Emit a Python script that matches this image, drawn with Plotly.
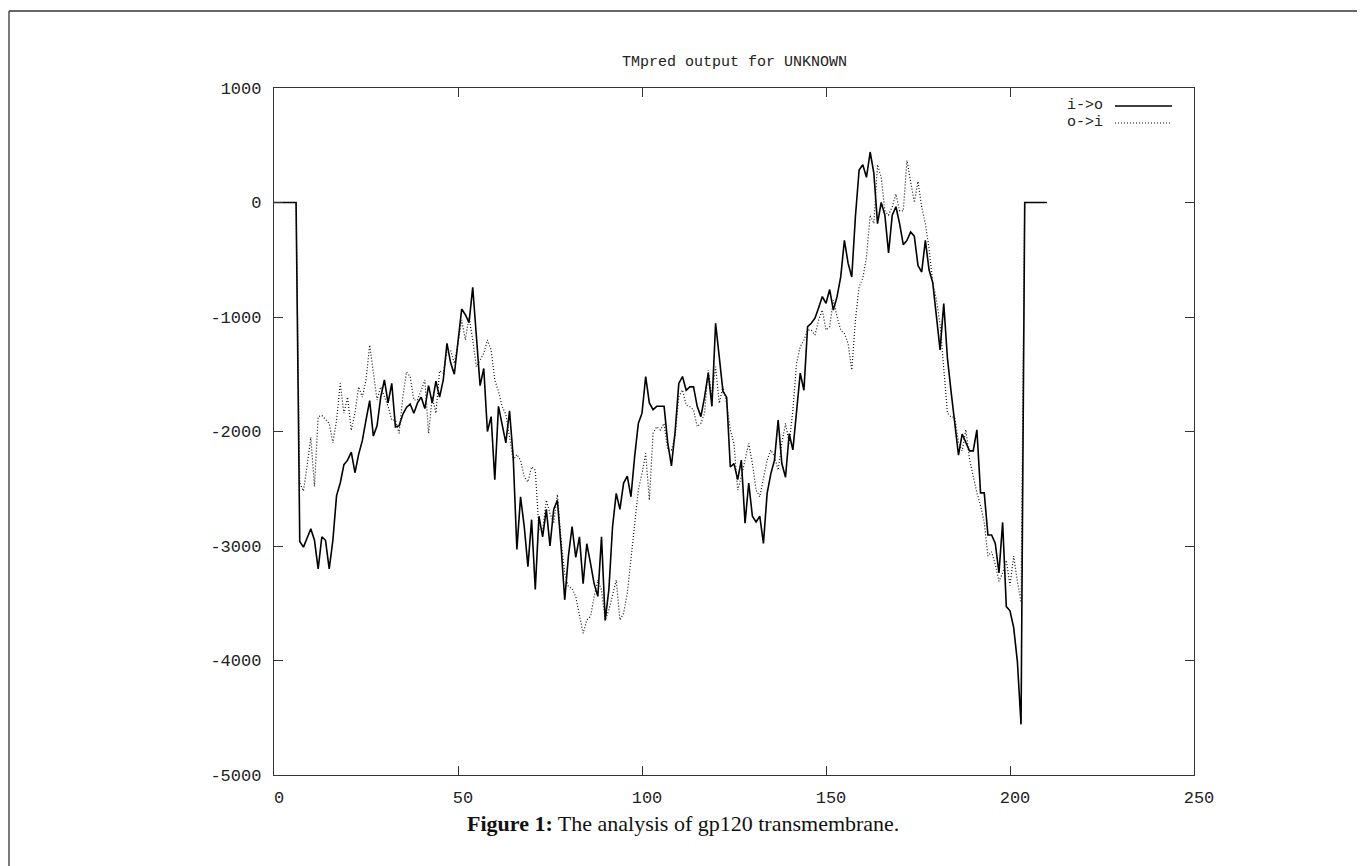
import plotly.graph_objects as go

# residue positions
positions = list(range(0, 211))

# TMpred scores, inside->outside (solid)
i_to_o = [
    0, 0, 0, 0, 0, 0, 0,
    -2960, -3010, -2930, -2850, -2950, -3200, -2920, -2950, -3200, -2950,
    -2560, -2450, -2290, -2250, -2180, -2360, -2200, -2080, -1900, -1730,
    -2040, -1950, -1700, -1550, -1750, -1580, -1960, -1950, -1850, -1790,
    -1760, -1840, -1750, -1700, -1800, -1600, -1750, -1560, -1700, -1550,
    -1230, -1400, -1500, -1200, -930, -980, -1050, -740, -1200, -1600,
    -1450, -2000, -1870, -2420, -1780, -1930, -2100, -1820, -2220, -3030,
    -2570, -2830, -3180, -2770, -3380, -2740, -2920, -2680, -3000, -2680,
    -2600, -3000, -3470, -3090, -2830, -3100, -2920, -3330, -2980, -3150,
    -3330, -3440, -2920, -3650, -3380, -2830, -2540, -2680, -2450, -2390,
    -2570, -2220, -1930, -1840, -1520, -1750, -1810, -1780, -1780, -1780,
    -2100, -2300, -2000, -1580, -1520, -1640, -1610, -1610, -1780, -1870,
    -1700, -1490, -1780, -1055, -1350, -1650, -1700, -2310, -2280, -2420,
    -2250, -2800, -2450, -2740, -2790, -2740, -2977, -2540, -2370, -2250,
    -1900, -2280, -2400, -2020, -2160, -1810, -1490, -1640, -1085, -1055,
    -1010, -920, -822, -880, -760, -940, -822, -650, -330, -530,
    -650, -120, 284, 330, 220, 441, 257, -184, 0, -110,
    -441, -110, -37, -184, -368, -331, -257, -294, -551, -607,
    -331, -588, -698, -993, -1287, -882, -1360, -1654, -1948, -2206,
    -2022, -2095, -2169, -2169, -1985, -2536, -2536, -2904, -2904, -2977,
    -3235, -2794, -3529, -3566, -3713, -4007, -4558,
    0, 0, 0, 0, 0, 0, 0,
]

# TMpred scores, outside->inside (dotted)
o_to_i = [
    0, 0, 0, 0, 0, 0, 0,
    -2450, -2520, -2300, -2050, -2480, -1870, -1860, -1900, -1930, -2100,
    -1900, -1580, -1840, -1700, -1990, -1840, -1610, -1700, -1550, -1245,
    -1490, -1725, -1610, -1700, -1780, -1900, -1900, -2016, -1700, -1480,
    -1520, -1725, -1725, -1640, -1550, -2016, -1700, -1840, -1470, -1492,
    -1300, -1290, -1405, -1230, -1026, -1200, -1000, -1200, -1434, -1376,
    -1317, -1201, -1288, -1550, -1650, -1783, -1850, -2046, -2250, -2200,
    -2250, -2395, -2440, -2308, -2337, -2860, -2860, -2599, -2715, -2802,
    -2550, -2948, -3239, -3355, -3370, -3443, -3617, -3762, -3646, -3617,
    -3443, -3297, -3384, -3646, -3560, -3414, -3297, -3646, -3588, -3414,
    -3123, -2773, -2511, -2366, -2191, -2599, -2016, -1958, -1987, -1929,
    -2162, -2162, -2045, -1696, -1637, -1769, -1783, -1812, -1958, -1929,
    -1841, -1463, -1696, -1434, -1754, -1608, -1754, -1987, -2104, -2511,
    -2395, -2250, -2104, -2279, -2511, -2570, -2424, -2250, -2162, -2220,
    -2337, -2104, -1929, -2104, -1812, -1405, -1259, -1201, -1114, -1114,
    -1158, -1026, -939, -1114, -1085, -852, -997, -1114, -1143, -1230,
    -1463, -1026, -735, -662, -478, -110, -184, 330, 220, -74,
    -110, -37, 74, -74, -74, 368, 184, 0, 184, -37,
    -184, -404, -698, -845, -1066, -1434, -1838, -1875, -1875, -2095,
    -2169, -1985, -2242, -2389, -2536, -2647, -2794, -3088, -3051, -3161,
    -3308, -3235, -3125, -3345, -3088, -3308, -3492,
    0, 0, 0, 0, 0, 0, 0,
]

series_names = ["i->o", "o->i"]
x_tick_vals = [0, 50, 100, 150, 200, 250]
x_tick_text = ["0", "50", "100", "150", "200", "250"]
y_tick_vals = [1000, 0, -1000, -2000, -3000, -4000, -5000]
y_tick_text = ["1000", "0", "-1000", "-2000", "-3000", "-4000", "-5000"]

# page has an 8px body margin; target plot box in page pixels: x 274..1194, y 88..775
OFF = 8
W, H = 1357, 858
L, T = 274 - OFF, 88 - OFF
R = OFF + W - 1194
B = OFF + H - 775
PW, PH = W - L - R, H - T - B


def px(xp):
    return (xp - OFF - L) / PW


def py(yp):
    return (OFF + H - B - yp) / PH


mono = "Liberation Mono"
ink = "#222222"
solid_line = dict(color="black", width=1.6)
dotted_line = dict(color="#111111", width=1.2, dash="1px,2px")

fig = go.Figure()
fig.add_trace(go.Scatter(x=positions, y=i_to_o, mode="lines", name=series_names[0],
                         line=solid_line, showlegend=False))
fig.add_trace(go.Scatter(x=positions, y=o_to_i, mode="lines", name=series_names[1],
                         line=dotted_line, showlegend=False))

axis_common = dict(showline=True, linecolor="#333333", linewidth=1.3, mirror="ticks",
                   ticks="inside", ticklen=9, tickwidth=1.3, tickcolor="#333333",
                   showgrid=False, zeroline=False,
                   tickfont=dict(family=mono, size=17, color=ink))

fig.update_xaxes(range=[0, 250], tickvals=x_tick_vals, ticktext=x_tick_text,
                 ticklabelstandoff=6, ticklabelshift=5, **axis_common)
fig.update_yaxes(range=[-5000, 1000], tickvals=y_tick_vals, ticktext=y_tick_text,
                 ticklabelstandoff=8, **axis_common)

# legend (gnuplot style: text then sample)
legend_rows = [(106, series_names[0], solid_line), (123, series_names[1], dotted_line)]
for yp, name, ln in legend_rows:
    fig.add_annotation(x=px(1104), y=py(yp), xref="paper", yref="paper", text=name,
                       showarrow=False, xanchor="right", yanchor="middle",
                       font=dict(family=mono, size=15, color=ink),
                       borderpad=0)
    fig.add_shape(type="line", xref="paper", yref="paper", x0=px(1115), x1=px(1172),
                  y0=py(yp), y1=py(yp), line=ln)

# title
fig.add_annotation(x=0.5, y=py(62), xref="paper", yref="paper",
                   text="TMpred output for UNKNOWN", showarrow=False,
                   xanchor="center", yanchor="middle",
                   font=dict(family=mono, size=15, color=ink))

# caption
fig.add_annotation(x=px(683), y=py(823), xref="paper", yref="paper",
                   text="<b>Figure 1:</b> The analysis of gp120 transmembrane.",
                   showarrow=False, xanchor="center", yanchor="middle",
                   font=dict(family="Liberation Serif", size=22, color="#111111"))

# outer frame (left and top edges visible)
fig.add_shape(type="line", xref="paper", yref="paper", x0=px(9), x1=px(1375),
              y0=py(11), y1=py(11), line=dict(color="#333333", width=1.3))
fig.add_shape(type="line", xref="paper", yref="paper", x0=px(9), x1=px(9),
              y0=py(11), y1=py(880), line=dict(color="#333333", width=1.3))

fig.update_layout(width=W, height=H, margin=dict(l=L, r=R, t=T, b=B),
                  paper_bgcolor="white", plot_bgcolor="white", showlegend=False,
                  hovermode=False)

fig.write_html("out.html", config={"displayModeBar": False})
